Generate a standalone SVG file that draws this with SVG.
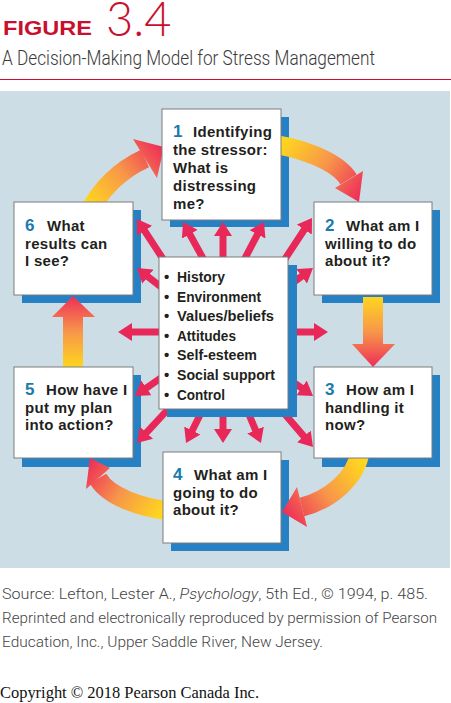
<svg xmlns="http://www.w3.org/2000/svg" width="451" height="703" viewBox="0 0 451 703">
<style>
.fig{font-family:"Liberation Sans",Arial,sans-serif;font-weight:bold;font-size:20px;fill:#c8102e}
.num34{font-family:Lato,"Liberation Sans",sans-serif;font-weight:300;font-size:47px;fill:#c8102e}
.sub{font-family:Roboto,"Liberation Sans",sans-serif;font-weight:300;font-size:21px;fill:#3a3a3a}
.src{font-family:Roboto,"Liberation Sans",sans-serif;font-weight:300;font-size:15px;fill:#444}
.copy{font-family:"Liberation Serif","Times New Roman",serif;font-size:16px;fill:#111}
.box{fill:#fff;stroke:#7d7d7d;stroke-width:1}
.sh{fill:#2581c4}
.t{font-family:"Liberation Sans",Arial,sans-serif;font-weight:bold;font-size:15px;fill:#231f20;letter-spacing:0.3px}
.n{font-family:"Liberation Sans",Arial,sans-serif;font-weight:bold;font-size:17px;fill:#1b7aad}
.c{font-family:"Liberation Sans",Arial,sans-serif;font-weight:bold;font-size:15px;fill:#231f20}
.ray{stroke:#e9285a;stroke-width:7;fill:none;marker-end:url(#rh)}
</style>
<defs>
<marker id="rh" markerUnits="userSpaceOnUse" markerWidth="14" markerHeight="18" viewBox="0 0 14 18" refX="2" refY="9" orient="auto">
<path d="M0,0 L14,9 L0,18 Z" fill="#e9285a"/>
</marker>
<linearGradient id="gA" gradientUnits="userSpaceOnUse" x1="90" y1="205" x2="162" y2="147"><stop offset="0" stop-color="#ffd51f"/><stop offset="0.5" stop-color="#f7964a"/><stop offset="1" stop-color="#ee2e58"/></linearGradient>
<linearGradient id="gB" gradientUnits="userSpaceOnUse" x1="281" y1="147" x2="358" y2="200"><stop offset="0" stop-color="#ffd51f"/><stop offset="0.5" stop-color="#f7964a"/><stop offset="1" stop-color="#ee2e58"/></linearGradient>
<linearGradient id="gC" gradientUnits="userSpaceOnUse" x1="357" y1="458" x2="283" y2="512"><stop offset="0" stop-color="#ffd51f"/><stop offset="0.5" stop-color="#f7964a"/><stop offset="1" stop-color="#ee2e58"/></linearGradient>
<linearGradient id="gD" gradientUnits="userSpaceOnUse" x1="163" y1="509" x2="90" y2="460"><stop offset="0" stop-color="#ffd51f"/><stop offset="0.5" stop-color="#f7964a"/><stop offset="1" stop-color="#ee2e58"/></linearGradient>
<linearGradient id="g23" gradientUnits="userSpaceOnUse" x1="373" y1="297" x2="373" y2="367"><stop offset="0" stop-color="#ffd51f"/><stop offset="0.5" stop-color="#f7964a"/><stop offset="1" stop-color="#ee2e58"/></linearGradient>
<linearGradient id="g56" gradientUnits="userSpaceOnUse" x1="73" y1="367" x2="73" y2="296"><stop offset="0" stop-color="#ffd51f"/><stop offset="0.5" stop-color="#f7964a"/><stop offset="1" stop-color="#ee2e58"/></linearGradient>
</defs>

<g id="header">
<text class="fig" x="3" y="35" textLength="89" lengthAdjust="spacingAndGlyphs">FIGURE</text>
<text class="num34" x="106" y="36">3.4</text>
<text class="sub" x="2" y="65" textLength="373" lengthAdjust="spacingAndGlyphs">A Decision-Making Model for Stress Management</text>
<line x1="0" y1="79.5" x2="451" y2="79.5" stroke="#c8102e" stroke-width="1"/>
</g>

<rect id="panel" x="0" y="91" width="450" height="477" fill="#cddde6"/>

<g id="shadows">
<rect class="sh" x="170" y="117" width="119" height="110"/>
<rect class="sh" x="22" y="210" width="119" height="93"/>
<rect class="sh" x="322" y="210" width="118" height="93"/>
<rect class="sh" x="322" y="375" width="118" height="92"/>
<rect class="sh" x="22" y="375" width="119" height="92"/>
<rect class="sh" x="171" y="460" width="118" height="91"/>
</g>

<g id="connectors">
<path d="M88 214 C100 190 120 170 145 158.5" stroke="url(#gA)" stroke-width="19" fill="none"/>
<polygon points="133,139 157,178 164,147" fill="url(#gA)"/>
<path d="M262 143 C300 146 338 162 348.5 179.5" stroke="url(#gB)" stroke-width="19" fill="none"/>
<polygon points="335,188 363,171 359,202" fill="url(#gB)"/>
<path d="M360 452 C356 478 330 500 302 507" stroke="url(#gC)" stroke-width="19" fill="none"/>
<polygon points="297,487 307,527 282,512" fill="url(#gC)"/>
<path d="M172 511 C140 508 108 496 98 478.5" stroke="url(#gD)" stroke-width="19" fill="none"/>
<polygon points="86,489 110,468 90,458" fill="url(#gD)"/>
<rect x="363" y="297" width="20" height="48" fill="url(#g23)"/>
<polygon points="352,344 395,344 373,367" fill="url(#g23)"/>
<rect x="63" y="316" width="20" height="52" fill="url(#g56)"/>
<polygon points="52,317 95,317 73,296" fill="url(#g56)"/>
<line class="ray" x1="165" y1="262" x2="143.5" y2="229.1"/>
<line class="ray" x1="205" y1="262" x2="188.8" y2="232.5"/>
<line class="ray" x1="223" y1="262" x2="223" y2="234"/>
<line class="ray" x1="243" y1="262" x2="258.4" y2="232.6"/>
<line class="ray" x1="283" y1="262" x2="305.4" y2="228"/>
<line class="ray" x1="165" y1="290" x2="146.4" y2="275.4"/>
<line class="ray" x1="283" y1="290" x2="303.3" y2="275.1"/>
<line class="ray" x1="165" y1="332" x2="130" y2="332"/>
<line class="ray" x1="283" y1="332" x2="316" y2="332"/>
<line class="ray" x1="165" y1="375" x2="144.8" y2="389.1"/>
<line class="ray" x1="283" y1="375" x2="303.2" y2="389.1"/>
<line class="ray" x1="172" y1="405" x2="145.1" y2="434.2"/>
<line class="ray" x1="205" y1="405" x2="191.4" y2="432.3"/>
<line class="ray" x1="223" y1="405" x2="223" y2="431"/>
<line class="ray" x1="245" y1="405" x2="256.3" y2="431.9"/>
<line class="ray" x1="277" y1="405" x2="305.2" y2="437.9"/>
</g>

<g id="node-center">
<rect class="sh" x="167" y="265" width="130" height="152"/>
<rect class="box" x="159" y="257" width="129" height="152"/>
<text class="c" x="164" y="282">•</text><text class="c" x="177" y="282" textLength="48" lengthAdjust="spacingAndGlyphs">History</text>
<text class="c" x="164" y="301.6">•</text><text class="c" x="177" y="301.6" textLength="84" lengthAdjust="spacingAndGlyphs">Environment</text>
<text class="c" x="164" y="321.2">•</text><text class="c" x="177" y="321.2" textLength="97" lengthAdjust="spacingAndGlyphs">Values/beliefs</text>
<text class="c" x="164" y="340.8">•</text><text class="c" x="177" y="340.8" textLength="59" lengthAdjust="spacingAndGlyphs">Attitudes</text>
<text class="c" x="164" y="360.4">•</text><text class="c" x="177" y="360.4" textLength="80" lengthAdjust="spacingAndGlyphs">Self-esteem</text>
<text class="c" x="164" y="380">•</text><text class="c" x="177" y="380" textLength="98" lengthAdjust="spacingAndGlyphs">Social support</text>
<text class="c" x="164" y="399.6">•</text><text class="c" x="177" y="399.6" textLength="48" lengthAdjust="spacingAndGlyphs">Control</text>
</g>

<g id="node-1">
<rect class="box" x="162" y="109" width="119" height="111"/>
<text class="n" x="173" y="137">1</text>
<text class="t" x="193" y="137">Identifying</text>
<text class="t" x="173" y="155">the stressor:</text>
<text class="t" x="173" y="173">What is</text>
<text class="t" x="173" y="191">distressing</text>
<text class="t" x="173" y="209">me?</text>
</g>

<g id="node-2">
<rect class="box" x="314" y="202" width="118" height="93"/>
<text class="n" x="325" y="231">2</text>
<text class="t" x="346" y="231">What am I</text>
<text class="t" x="325" y="248.5">willing to do</text>
<text class="t" x="325" y="266">about it?</text>
</g>

<g id="node-3">
<rect class="box" x="314" y="367" width="118" height="91"/>
<text class="n" x="325" y="395">3</text>
<text class="t" x="346" y="395">How am I</text>
<text class="t" x="325" y="412.5">handling it</text>
<text class="t" x="325" y="430">now?</text>
</g>

<g id="node-4">
<rect class="box" x="163" y="452" width="118" height="91"/>
<text class="n" x="173" y="480">4</text>
<text class="t" x="194" y="480">What am I</text>
<text class="t" x="173" y="497.5">going to do</text>
<text class="t" x="173" y="515">about it?</text>
</g>

<g id="node-5">
<rect class="box" x="14" y="367" width="119" height="91"/>
<text class="n" x="25" y="395">5</text>
<text class="t" x="46" y="395">How have I</text>
<text class="t" x="25" y="412.5">put my plan</text>
<text class="t" x="25" y="430">into action?</text>
</g>

<g id="node-6">
<rect class="box" x="14" y="202" width="119" height="93"/>
<text class="n" x="25" y="231">6</text>
<text class="t" x="47" y="231">What</text>
<text class="t" x="25" y="248.5">results can</text>
<text class="t" x="25" y="266">I see?</text>
</g>

<g id="footer">
<text class="src" x="2" y="599" textLength="426" lengthAdjust="spacingAndGlyphs">Source: Lefton, Lester A., <tspan font-style="italic">Psychology</tspan>, 5th Ed., © 1994, p. 485.</text>
<text class="src" x="2" y="623" textLength="435" lengthAdjust="spacingAndGlyphs">Reprinted and electronically reproduced by permission of Pearson</text>
<text class="src" x="2" y="647" textLength="321" lengthAdjust="spacingAndGlyphs">Education, Inc., Upper Saddle River, New Jersey.</text>
<text class="copy" x="0" y="698" textLength="259" lengthAdjust="spacingAndGlyphs">Copyright © 2018 Pearson Canada Inc.</text>
</g>
</svg>
